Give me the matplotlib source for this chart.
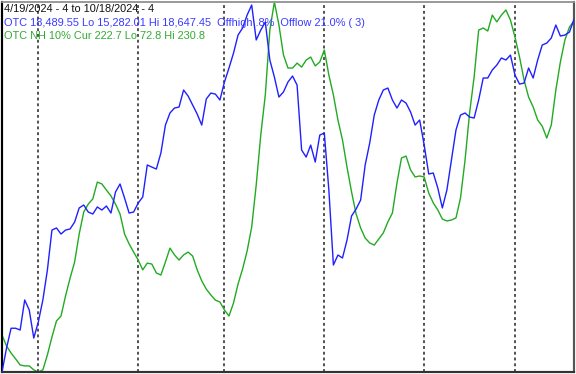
import matplotlib
matplotlib.use("Agg")
import matplotlib.pyplot as plt
import pandas as pd

# ---- data ----
holidays = ["2024-05-27", "2024-06-19", "2024-07-04", "2024-09-02"]
dates = pd.bdate_range("2024-04-19", "2024-10-18", freq="C", holidays=holidays)

otc = [15282, 15500, 15680, 15680, 15664, 15937, 15846, 15591, 15737, 15937,
       16210, 16573, 16592, 16537, 16573, 16583, 16646, 16774, 16801, 16737,
       16719, 16783, 16755, 16792, 16728, 16919, 16992, 16864, 16728, 16737,
       16819, 16874, 17165, 17146, 17128, 17274, 17528, 17638, 17683, 17692,
       17847, 17792, 17710, 17628, 17528, 17765, 17819, 17810, 17756, 17919,
       18047, 18183, 18347, 18411, 18529, 18620, 18302, 18392, 18465, 18120,
       17965, 17783, 17829, 17920, 17974, 17892, 17301, 17237, 17346, 17192,
       17437, 17456, 16937, 16255, 16346, 16319, 16482, 16701, 16764, 16846,
       17165, 17365, 17619, 17756, 17847, 17865, 17756, 17683, 17756, 17728,
       17647, 17528, 17574, 17346, 17083, 17092, 16955, 16774, 16937, 17210,
       17483, 17619, 17638, 17601, 17592, 17756, 17956, 17956, 18029, 18074,
       18138, 18120, 18165, 17983, 17901, 17910, 18047, 17956, 18120, 18256,
       18274, 18320, 18438, 18338, 18347, 18374, 18489.55]

nh10 = [88.6, 83.9, 80.9, 78.4, 75.8, 75.4, 75.4, 73.7, 72.8, 73.7,
        80.1, 87.7, 94.6, 96.7, 105.3, 112.9, 119.8, 131.7, 141.1, 144.5,
        146.7, 153.9, 153.1, 150.5, 148.0, 144.5, 140.3, 131.7, 127.5, 124.0,
        120.6, 116.4, 119.3, 118.9, 115.1, 114.2, 119.8, 125.7, 122.8, 120.6,
        122.8, 124.0, 122.3, 116.4, 111.7, 108.2, 105.7, 103.5, 102.7, 99.3,
        96.7, 102.3, 110.4, 116.8, 124.5, 134.7, 152.7, 174.0, 191.1, 218.8,
        230.8, 221.0, 208.2, 202.6, 202.6, 204.7, 203.0, 206.0, 207.3, 203.5,
        205.2, 210.3, 199.6, 191.1, 180.4, 171.9, 160.3, 149.7, 140.3, 134.3,
        130.0, 127.9, 127.0, 129.6, 132.2, 136.9, 140.7, 153.5, 164.2, 165.0,
        159.1, 156.1, 156.5, 156.1, 149.2, 145.0, 142.0, 138.1, 137.3, 137.7,
        138.6, 147.1, 163.3, 183.4, 198.8, 218.8, 219.7, 218.4, 225.2, 222.3,
        225.2, 227.4, 223.1, 215.8, 207.3, 197.5, 190.2, 186.0, 180.4, 177.8,
        172.7, 178.3, 193.2, 205.2, 214.6, 220.1, 222.7]

otc_lo, otc_hi = 15282.01, 18647.45
nh_lo, nh_hi = 72.8, 230.8

header = "4/19/2024 - 4 to 10/18/2024 - 4"
otc_label = "OTC 18,489.55 Lo 15,282.01 Hi 18,647.45  Offhigh .8%  Offlow 21.0% ( 3)"
nh_label = "OTC NH 10% Cur 222.7 Lo 72.8 Hi 230.8"

# ---- figure ----
W, H = 576, 374
fig = plt.figure(figsize=(W / 100, H / 100), dpi=100)
fig.patch.set_facecolor("white")
ax = fig.add_axes([2 / W, 2 / H, 572 / W, 370 / H])
ax2 = ax.twinx()

BLUE = "#2020ff"
GREEN = "#22aa22"

idx = list(range(len(dates)))  # trading-day positions (no weekend gaps)
ax.plot(idx, nh10, color=GREEN, lw=1.0, zorder=3)
ax2.plot(idx, otc, color=BLUE, lw=1.0, zorder=3)

ax.set_ylim(nh_lo, nh_hi)
ax2.set_ylim(otc_lo, otc_hi)
ax.set_xlim(0, len(dates) - 1)

# month boundaries
month_starts = [i for i in range(1, len(dates)) if dates[i].month != dates[i - 1].month]
for i in month_starts:
    ax.axvline(i, color="#444444", lw=1.3, ls=(0, (1.6, 1.6)), zorder=2)

for a in (ax, ax2):
    a.set_xticks([])
    a.set_yticks([])
ax2.patch.set_alpha(0)
ax.set_facecolor("white")
ax.set_zorder(0)
ax2.set_zorder(1)

for a in (ax, ax2):
    a.spines["left"].set_color("black")
    a.spines["left"].set_linewidth(1.5)
    a.spines["bottom"].set_color("#333333")
    a.spines["bottom"].set_linewidth(1.5)
    a.spines["top"].set_color("#999999")
    a.spines["top"].set_linewidth(1.2)
    a.spines["right"].set_color("#555555")
    a.spines["right"].set_linewidth(1.5)

fs = 7.9
fam = ["Liberation Sans", "DejaVu Sans"]
fig.text(4 / W, 1 - 9.5 / H, header, color="#111111", fontsize=fs, family=fam, va="center", ha="left", zorder=5)
fig.text(4 / W, 1 - 22.7 / H, otc_label, color="#3a3aff", fontsize=fs, family=fam, va="center", ha="left", zorder=5)
fig.text(4 / W, 1 - 36 / H, nh_label, color="#33aa33", fontsize=fs, family=fam, va="center", ha="left", zorder=5)

fig.savefig("out.png", dpi=100, facecolor="white")
